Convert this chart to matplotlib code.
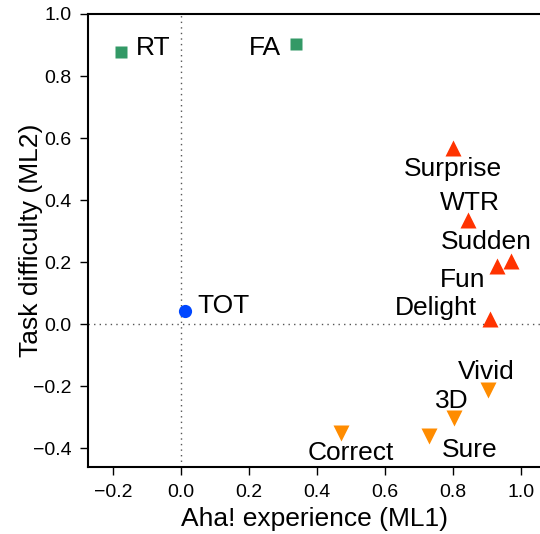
import numpy as np
import matplotlib
matplotlib.use("Agg")
import matplotlib.pyplot as plt

plt.rcParams['font.family'] = ['Liberation Sans', 'DejaVu Sans']

# loadings on the two factors
names = ["RT", "FA", "TOT",
         "Surprise", "WTR", "Sudden", "Fun", "Delight",
         "Vivid", "3D", "Sure", "Correct"]
ml1 = [-0.176, 0.338, 0.012,
       0.80, 0.844, 0.970, 0.929, 0.909,
       0.903, 0.803, 0.729, 0.470]
ml2 = [0.876, 0.902, 0.044,
       0.569, 0.337, 0.205, 0.189, 0.018,
       -0.211, -0.302, -0.360, -0.350]
group = ["diff", "diff", "tot",
         "aha", "aha", "aha", "aha", "aha",
         "conf", "conf", "conf", "conf"]

# where each label sits (center x, baseline y)
lab_x = [-0.081, 0.247, 0.126,
         0.80, 0.849, 0.899, 0.829, 0.751,
         0.897, 0.797, 0.849, 0.499]
lab_y = [0.869, 0.869, 0.037,
         0.479, 0.369, 0.243, 0.121, 0.031,
         -0.176, -0.269, -0.427, -0.437]

styles = {
    "diff": dict(marker="s", color="#339966", ms=8),
    "tot": dict(marker="o", color="#0047ff", ms=9.5),
    "aha": dict(marker="^", color="#ff3300", ms=11),
    "conf": dict(marker="v", color="#ff8c00", ms=11),
}

fig = plt.figure(figsize=(5.4, 5.34), dpi=100)
ax = fig.add_axes([0.163, 0.1255, 0.837, 0.8483])

ax.axvline(0, color="#555555", ls=(0, (1, 3)), lw=1)
ax.axhline(0, color="#555555", ls=(0, (1, 3)), lw=1)

for g, st in styles.items():
    xs = [x for x, gg in zip(ml1, group) if gg == g]
    ys = [y for y, gg in zip(ml2, group) if gg == g]
    ax.plot(xs, ys, ls="none", marker=st["marker"], color=st["color"],
            ms=st["ms"], mec="none", zorder=3)

for n, x, y in zip(names, lab_x, lab_y):
    ax.text(x, y, n, ha="center", va="baseline", fontsize=19)

ax.set_xlim(-0.274, 1.056)
ax.set_ylim(-0.46, 1.0)
ax.set_xticks(np.arange(-0.2, 1.01, 0.2))
ax.set_yticks(np.arange(-0.4, 1.01, 0.2))
ax.set_xticklabels(["\u22120.2", "0.0", "0.2", "0.4", "0.6", "0.8", "1.0"])
ax.set_yticklabels(["\u22120.4", "\u22120.2", "0.0", "0.2", "0.4", "0.6", "0.8", "1.0"])
ax.tick_params(direction="out", length=6, width=1, labelsize=14, pad=6)
ax.spines["right"].set_visible(False)
for s in ["left", "bottom", "top"]:
    ax.spines[s].set_linewidth(1.5)

ax.set_xlabel("Aha! experience (ML1)", fontsize=19)
ax.set_ylabel("Task difficulty (ML2)", fontsize=19)
ax.xaxis.set_label_coords(0.50, -0.088)
ax.yaxis.set_label_coords(-0.10, 0.5)

fig.savefig("out.png", dpi=100)
